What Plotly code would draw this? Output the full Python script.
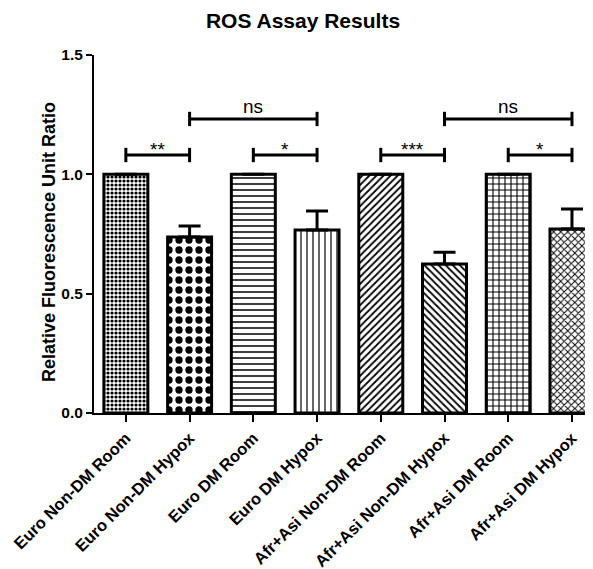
import plotly.graph_objects as go

categories = ["Euro Non-DM Room", "Euro Non-DM Hypox", "Euro DM Room", "Euro DM Hypox",
              "Afr+Asi Non-DM Room", "Afr+Asi Non-DM Hypox", "Afr+Asi DM Room", "Afr+Asi DM Hypox"]
values = [1.0, 0.737, 1.0, 0.767, 1.0, 0.624, 1.0, 0.771]
errors = [0.0, 0.046, 0.0, 0.079, 0.0, 0.05, 0.0, 0.084]
y_ticks = [0.0, 0.5, 1.0, 1.5]
# significance brackets: (start index, end index, y level, label)
brackets = [(0, 1, 1.081, "**"), (2, 3, 1.081, "*"), (1, 3, 1.232, "ns"),
            (4, 5, 1.081, "***"), (6, 7, 1.081, "*"), (5, 7, 1.232, "ns")]

shapes_pat = [".", ".", "-", "|", "/", "\\", "+", "x"]
sizes_pat = [4, 10, 6, 6, 5, 5, 6, 5]
solid_pat = [0.5, 0.42, 0.25, 0.2, 0.35, 0.35, 0.33, 0.35]

FONT = "Liberation Sans, Arial, sans-serif"
xs = list(range(len(categories)))

# the page body has an 8px default margin, so the figure is offset by 8px
OFF = 8
W, H = 593, 569

fig = go.Figure()
fig.add_trace(go.Bar(
    x=xs, y=values, width=0.69,
    marker=dict(color="white", line=dict(color="black", width=3),
                pattern=dict(shape=shapes_pat, size=sizes_pat, solidity=solid_pat,
                             fgcolor="black", bgcolor="white", fillmode="replace")),
    error_y=dict(type="data", symmetric=False, array=errors, arrayminus=[0]*len(errors),
                 color="black", thickness=3, width=11, visible=True),
    showlegend=False,
))

shapes = []
annotations = []
for a, b, y, lab in brackets:
    shapes.append(dict(type="line", xref="x", yref="y", x0=a, x1=b, y0=y, y1=y,
                       line=dict(color="black", width=3)))
    for xe in (a, b):
        shapes.append(dict(type="line", xref="x", yref="y", x0=xe, x1=xe, y0=y - 0.03, y1=y + 0.03,
                           line=dict(color="black", width=3)))
    is_ns = lab == "ns"
    annotations.append(dict(x=(a + b) / 2, y=y, xref="x", yref="y", text=lab, showarrow=False,
                            yanchor="middle", yshift=12 if is_ns else 6,
                            font=dict(family=FONT, size=19, color="black")))

# y-axis title placed as a rotated annotation
annotations.append(dict(text="Relative Fluorescence Unit Ratio", textangle=-90,
                        xref="paper", yref="paper", x=(49 - 94) / 499, y=(413 - 242) / 358,
                        xanchor="center", yanchor="middle", showarrow=False,
                        font=dict(family=FONT, size=18, color="black", weight="bold")))

fig.update_layout(
    width=W, height=H,
    margin=dict(l=94 - OFF, r=OFF, t=55 - OFF, b=H - (413 - OFF)),
    plot_bgcolor="white", paper_bgcolor="white",
    title=dict(text="ROS Assay Results", x=(303 - OFF) / W, xref="container", xanchor="center",
               y=1 - (21 - OFF) / H, yref="container", yanchor="middle",
               font=dict(family=FONT, size=21, color="black", weight="bold")),
    shapes=shapes, annotations=annotations,
)
fig.update_xaxes(
    range=[-0.5, 7.33], tickmode="array", tickvals=xs, ticktext=categories,
    tickangle=-45, ticks="outside", ticklen=7, tickwidth=2, tickcolor="black",
    showline=True, linecolor="black", linewidth=2, showgrid=False, zeroline=False,
    automargin=False,
    tickfont=dict(family=FONT, size=16.5, color="black", weight="bold"),
)
fig.update_yaxes(
    range=[0, 1.5], tickmode="array", tickvals=y_ticks, ticktext=[f"{v:.1f}" for v in y_ticks],
    ticks="outside", ticklen=6, tickwidth=2, tickcolor="black",
    showline=True, linecolor="black", linewidth=2, showgrid=False, zeroline=False,
    automargin=False,
    tickfont=dict(family=FONT, size=15.5, color="black", weight="bold"),
)

fig.write_html("out.html")
